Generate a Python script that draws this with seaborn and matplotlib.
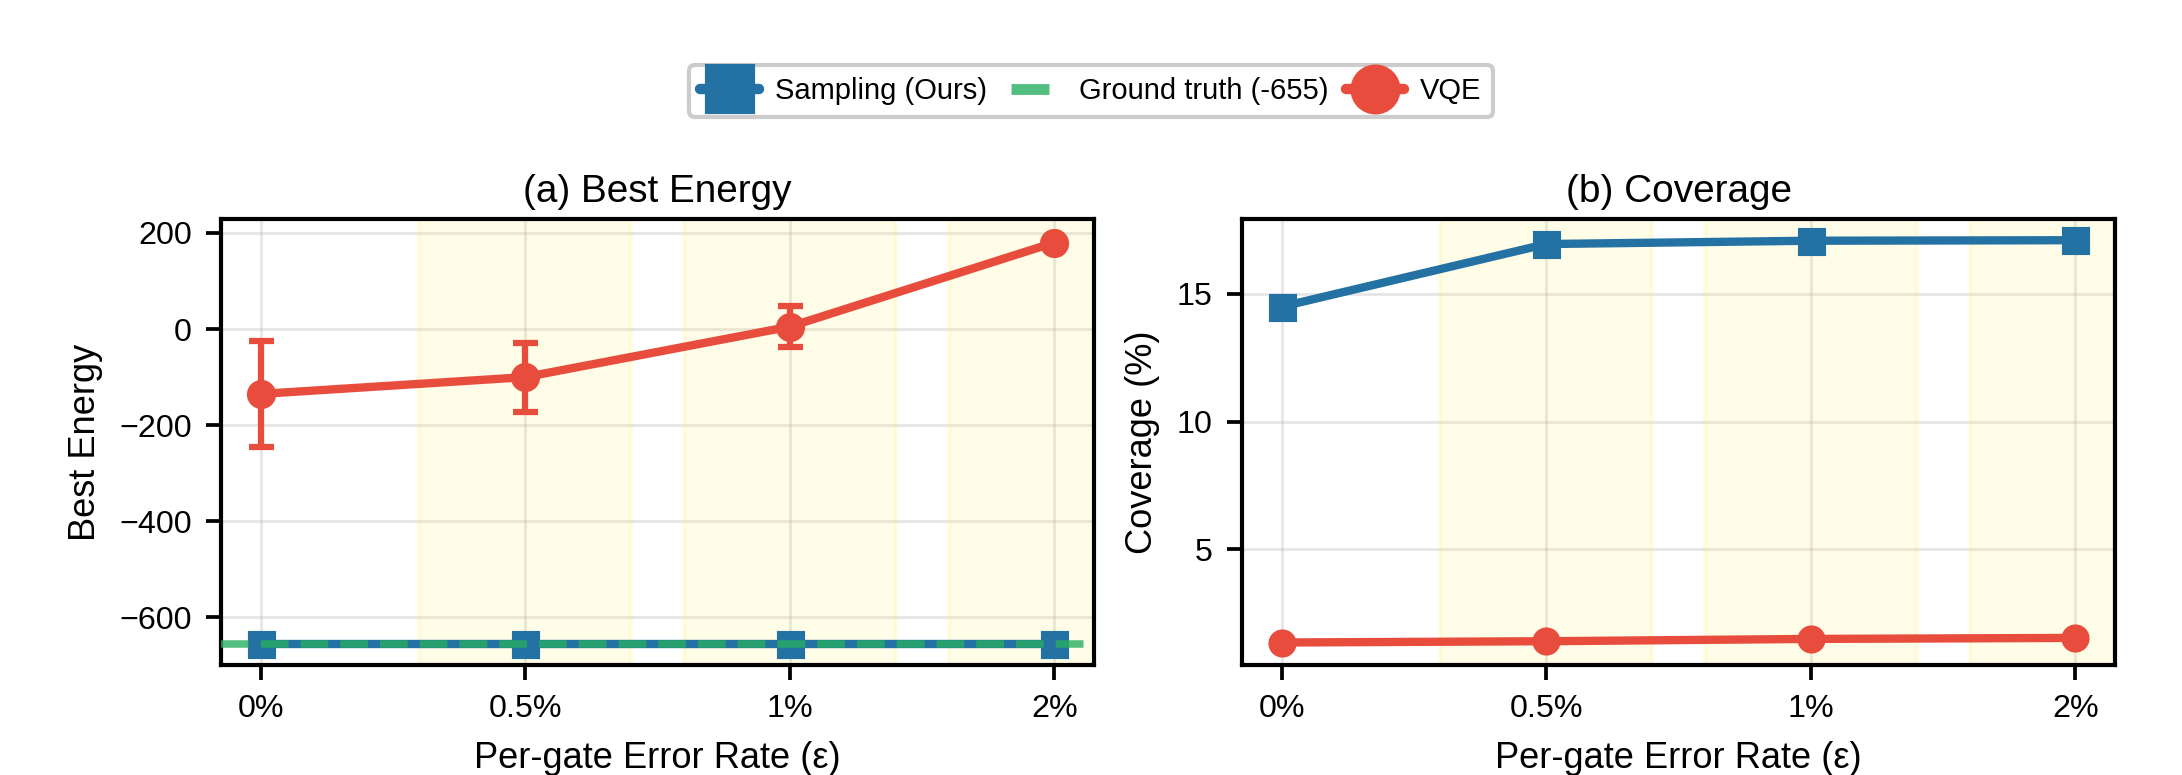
import numpy as np
import pandas as pd
import matplotlib
matplotlib.use("Agg")
import matplotlib.pyplot as plt
from matplotlib.lines import Line2D
import seaborn as sns

# ---- data ----
error_labels = ["0%", "0.5%", "1%", "2%"]
sampling_energy = [-655, -655, -655, -655]
vqe_energy = [-135, -100, 5, 180]
vqe_energy_err = [110, 72, 43, 0]
ground_truth = -655
sampling_coverage = [14.5, 16.95, 17.08, 17.1]
vqe_coverage = [1.36, 1.41, 1.50, 1.54]

BLUE = "#2471a3"
RED = "#e74c3c"
GREEN = "#27ae60"
BAND = "#ffeb3b"

sns.set_theme(style="ticks")
plt.rcParams["font.family"] = ["Liberation Sans", "DejaVu Sans"]
plt.rcParams["text.color"] = "black"
plt.rcParams["axes.labelcolor"] = "black"
plt.rcParams["xtick.color"] = "black"
plt.rcParams["ytick.color"] = "black"

fig = plt.figure(figsize=(2182 / 300, 775 / 300), dpi=300)
ax1 = fig.add_axes([221 / 2182, 1 - 665 / 775, 873 / 2182, 446 / 775])
ax2 = fig.add_axes([1242 / 2182, 1 - 665 / 775, 873 / 2182, 446 / 775])

x = np.arange(len(error_labels))
df = pd.DataFrame({
    "x": x,
    "sampling_energy": sampling_energy,
    "vqe_energy": vqe_energy,
    "sampling_coverage": sampling_coverage,
    "vqe_coverage": vqe_coverage,
})

LW = 2.0
MS = 6

for ax in (ax1, ax2):
    for i in x[1:]:
        ax.axvspan(i - 0.4, i + 0.4, color=BAND, alpha=0.12, zorder=0.6)
    ax.grid(True, color="#b0b0b0", alpha=0.3, lw=0.7)
    ax.set_axisbelow(True)

# (a) Best Energy
sns.lineplot(data=df, x="x", y="sampling_energy", ax=ax1, color=BLUE, lw=LW,
             marker="s", markersize=MS, markeredgecolor=BLUE, zorder=3)
ax1.axhline(ground_truth, color=GREEN, lw=1.8, ls="--", alpha=0.8, zorder=4)
ax1.errorbar(df["x"], df["vqe_energy"], yerr=vqe_energy_err, color=RED, lw=LW,
             marker="o", markersize=MS, markeredgecolor=RED, capsize=3,
             elinewidth=1.5, capthick=1.5, zorder=5)
ax1.set_ylim(-699, 229)
ax1.set_yticks([-600, -400, -200, 0, 200])
ax1.set_title("(a) Best Energy", fontsize=9.3, pad=4, color="black")
ax1.set_ylabel("Best Energy", fontsize=8.7)

# (b) Coverage
sns.lineplot(data=df, x="x", y="sampling_coverage", ax=ax2, color=BLUE, lw=LW,
             marker="s", markersize=MS, markeredgecolor=BLUE, zorder=3)
sns.lineplot(data=df, x="x", y="vqe_coverage", ax=ax2, color=RED, lw=LW,
             marker="o", markersize=MS, markeredgecolor=RED, zorder=3)
ax2.set_ylim(0.48, 17.93)
ax2.set_yticks([5, 10, 15])
ax2.set_title("(b) Coverage", fontsize=9.3, pad=4, color="black")
ax2.set_ylabel("Coverage (%)", fontsize=8.7)

for ax in (ax1, ax2):
    ax.set_xlim(-0.15, 3.15)
    ax.set_xticks(x)
    ax.set_xticklabels(error_labels)
    ax.set_xlabel("Per-gate Error Rate (ε)", fontsize=8.7)
    ax.tick_params(axis="both", labelsize=7.75, length=3.5, width=0.9,
                   direction="out", color="black", labelcolor="black")
    for s in ax.spines.values():
        s.set_visible(True)
        s.set_color("black")
        s.set_linewidth(1.0)
    leg = ax.get_legend()
    if leg is not None:
        leg.remove()

handles = [
    Line2D([], [], color=BLUE, lw=2.5, marker="s", markersize=11,
           markeredgecolor=BLUE),
    Line2D([], [], color=GREEN, lw=2.6, ls=(5.85, (3.5, 3.0)), alpha=0.8),
    Line2D([], [], color=RED, lw=2.5, marker="o", markersize=11,
           markeredgecolor=RED),
]
labels = ["Sampling (Ours)", "Ground truth (-655)", "VQE"]
lg = fig.legend(handles, labels, loc="center", bbox_to_anchor=(0.5, 1 - 91 / 775),
                ncol=3, fontsize=7.0, frameon=True, fancybox=True,
                edgecolor="#cccccc", framealpha=1.0, handlelength=2.0,
                handletextpad=0.55, columnspacing=0.6)
lg.get_frame().set_linewidth(1.0)
for t in lg.get_texts():
    t.set_color("black")

fig.savefig("out.png", dpi=300)
